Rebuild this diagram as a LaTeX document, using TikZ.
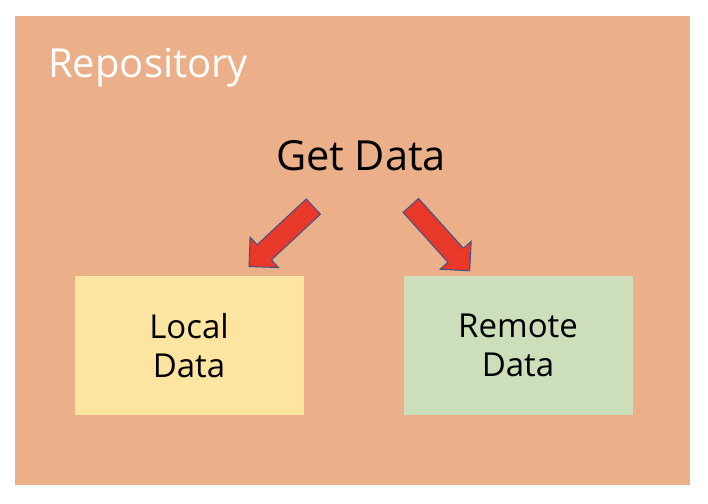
\documentclass[tikz,border=0pt]{standalone}
\usepackage{fontspec}
\setmainfont{Open Sans}
\usetikzlibrary{shapes.arrows}
\definecolor{repoorange}{rgb}{0.92,0.69,0.54}
\definecolor{localyellow}{rgb}{0.99,0.9,0.63}
\definecolor{remotegreen}{rgb}{0.8,0.87,0.73}
\definecolor{arrowred}{rgb}{0.91,0.22,0.16}
\definecolor{arrowblue}{rgb}{0.18,0.33,0.59}

\begin{document}
\begin{tikzpicture}[x=1pt,y=-1pt,
  databox/.style={fill=#1,draw=none,inner sep=0pt,minimum width=229pt,
    minimum height=139pt,align=center,font=\fontsize{33}{39}\selectfont},
  bigarrow/.style={single arrow,fill=arrowred,draw=arrowblue,line
    width=0.9pt,inner xsep=0pt,inner ysep=10pt,single arrow head
    extend=10.5pt,single arrow head indent=0pt,minimum height=88pt}]
  \useasboundingbox (0,0) rectangle (708,503);
  \node[fill=repoorange,inner sep=0pt,minimum width=675pt,minimum
  height=469pt] (repo) at (352.5,250.5) {};
  \node[anchor=base west,inner sep=0pt,text=white,
  font=\fontsize{40}{48}\selectfont] (title) at (48,77) {Repository};
  \node[anchor=base,inner sep=0pt,font=\fontsize{41.5}{50}\selectfont]
  (getdata) at (361,170) {Get Data};
  \node[databox=localyellow] (local) at (189,345.5) {Local\\Data};
  \node[databox=remotegreen] (remote) at (518,345.5) {Remote\\Data};
  % block arrows from Get Data down to the two sources
  \node[bigarrow,rotate=223] (toLocal) at (285,233) {};
  \node[bigarrow,rotate=-48] (toRemote) at (436.75,234.25) {};
\end{tikzpicture}
\end{document}
